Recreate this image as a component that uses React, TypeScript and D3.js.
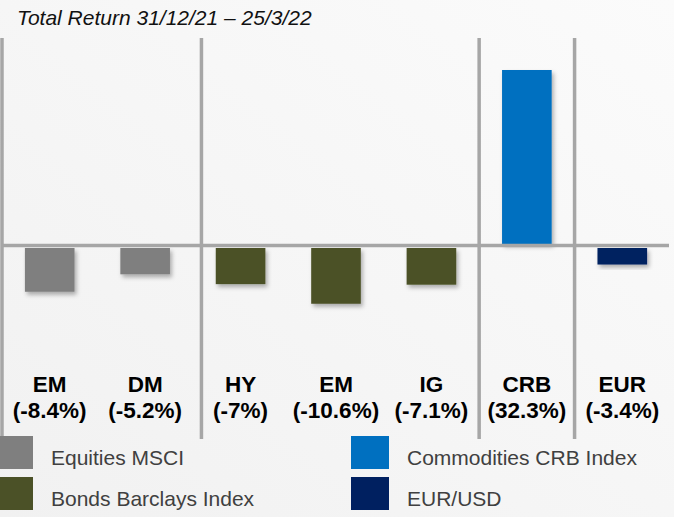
import React from "react";
import * as d3 from "d3";

const title = "Total Return 31/12/21 – 25/3/22";
const categories = ["EM", "DM", "HY", "EM", "IG", "CRB", "EUR"];
const valueLabels = ["(-8.4%)", "(-5.2%)", "(-7%)", "(-10.6%)", "(-7.1%)", "(32.3%)", "(-3.4%)"];
const values = [-8.4, -5.2, -7, -10.6, -7.1, 32.3, -3.4];
const groups = ["Equities MSCI", "Equities MSCI", "Bonds Barclays Index", "Bonds Barclays Index", "Bonds Barclays Index", "Commodities CRB Index", "EUR/USD"];
const legendItems = ["Equities MSCI", "Bonds Barclays Index", "Commodities CRB Index", "EUR/USD"];
const legendColors = ["#7f7f7f", "#4b5127", "#0070c0", "#002060"];
const separatorIndexes = [0, 2.09, 5, 6];

const W = 674;
const H = 517;

export default function App() {
  const x = d3.scaleBand<number>().domain(d3.range(categories.length)).range([2, 670]).paddingInner(0.48).paddingOuter(0.24);
  const y = d3.scaleLinear().domain([0, 32.3]).range([246, 70]);
  const color = d3.scaleOrdinal<string, string>().domain(legendItems).range(legendColors);
  const step = x.step();
  const x0 = 2;
  const y0 = y(0);

  return (
    <svg width={W} height={H} style={{ position: "absolute", left: 0, top: 0 }} fontFamily="'Liberation Sans', Arial, sans-serif">
      <defs>
        <linearGradient id="bg" x1="1" y1="0" x2="0" y2="1">
          <stop offset="0" stopColor="#fbfbfb" />
          <stop offset="1" stopColor="#f1f1f1" />
        </linearGradient>
        <filter id="sh" x="-20%" y="-20%" width="150%" height="150%">
          <feDropShadow dx="2" dy="3" stdDeviation="2" floodColor="#000" floodOpacity="0.3" />
        </filter>
      </defs>
      <rect x={0} y={0} width={W} height={H} fill="url(#bg)" />
      <text x={17} y={25} fontSize={21} fontStyle="italic" fill="#111">{title}</text>

      {separatorIndexes.map((k, i) => (
        <line key={"s" + i} x1={Math.max(1, x0 + k * step)} x2={Math.max(1, x0 + k * step)} y1={38} y2={439} stroke="#a6a6a6" strokeWidth={3.5} />
      ))}

      {values.map((v, i) => (
        <rect
          key={"b" + i}
          x={x(i)}
          y={v >= 0 ? y(v) : y0 + 2}
          width={x.bandwidth()}
          height={v >= 0 ? y0 - 2 - y(v) : y(v) - y0 - 2}
          fill={color(groups[i])}
          filter="url(#sh)"
        />
      ))}

      <line x1={2} x2={669} y1={y0 - 0.5} y2={y0 - 0.5} stroke="#a6a6a6" strokeWidth={3.5} />

      {categories.map((c, i) => {
        const cx = (x(i) as number) + x.bandwidth() / 2;
        return (
          <g key={"l" + i} fontWeight="bold" fontSize={22.5} fill="#000" textAnchor="middle">
            <text x={cx} y={392}>{c}</text>
            <text x={cx} y={418}>{valueLabels[i]}</text>
          </g>
        );
      })}

      {legendItems.map((name, i) => {
        const col = Math.floor(i / 2);
        const row = i % 2;
        const lx = col === 0 ? -5 : 351;
        const ly = 436 + row * 41;
        return (
          <g key={"lg" + i}>
            <rect x={lx} y={ly} width={38} height={33} fill={legendColors[i]} />
            <text x={lx + 56} y={ly + 29} fontSize={21} fill="#404040">{name}</text>
          </g>
        );
      })}
    </svg>
  );
}
